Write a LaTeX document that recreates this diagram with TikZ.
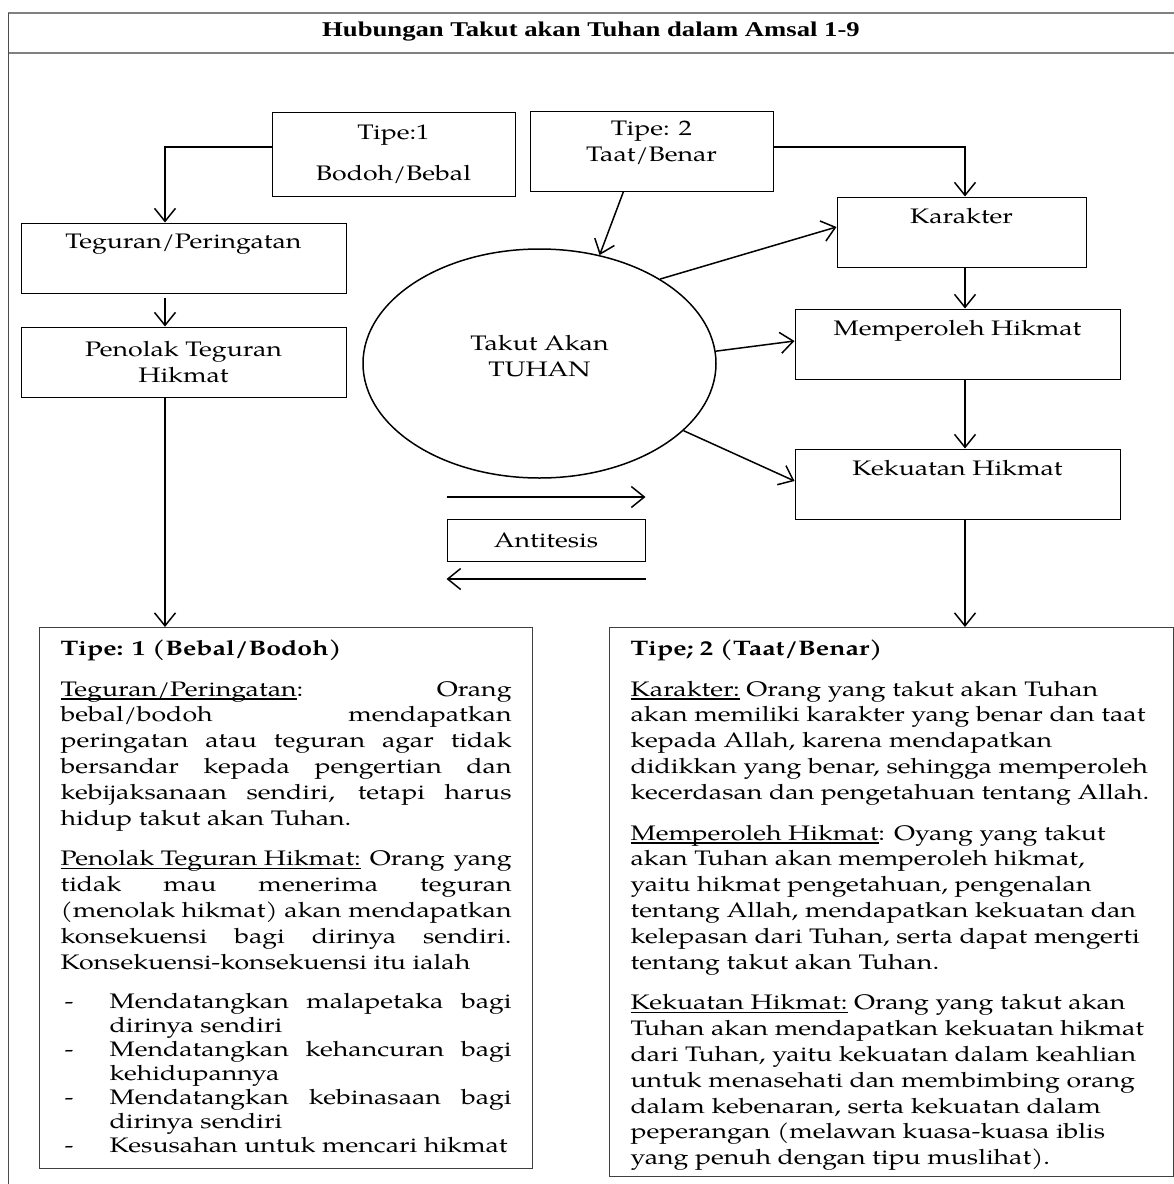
\documentclass[tikz,border=0pt]{standalone}
\usepackage{fontspec}
\setmainfont{TeX Gyre Pagella}[FakeStretch=1.27]
\newfontfamily\headfont{Liberation Serif}[FakeStretch=1.27]
\usetikzlibrary{positioning,arrows.meta,shapes.geometric}

% list line with a dash and hanging text
\newcommand{\dashitem}[1]{\par\hangindent=49pt\hangafter=1\noindent\makebox[49pt][l]{\hspace{4pt}-}#1}
% underline close to the baseline
\newcommand{\ulin}[1]{\leavevmode\setbox0\hbox{#1}\rlap{\rule[-3.5pt]{\wd0}{1.1pt}}\box0\relax}

\begin{document}
\begin{tikzpicture}[
      x=1pt, y=-1pt,
      font=\fontsize{21}{25.8}\selectfont,
      >={Straight Barb[length=13pt,width=21pt]},
      box/.style={draw, line width=1pt, minimum width=325pt, minimum height=70pt, inner sep=0pt, align=center},
      tbox/.style={box, text depth=33pt},
      bigbox/.style={draw=black!75, line width=1.2pt, inner xsep=21pt, inner ysep=12pt},
      conn/.style={->, line width=1.5pt}
  ]
    \path[use as bounding box, fill=white] (0,0) rectangle (1174,1184);

    % frame and title
    \draw[black!50, line width=1.5pt] (8,13) -- (1174,13) (8,53) -- (1174,53);
    \draw[black!70, line width=1pt] (8,13) -- (8,1184);
    \node[font={\headfont\bfseries\fontsize{21}{25}\selectfont}] (title) at (591,32) {Hubungan Takut akan Tuhan dalam Amsal 1-9};

    % type boxes
    \node[box, minimum width=243pt, minimum height=84pt] (t1) at (393.5,154) {Tipe:1\\[15pt]Bodoh/Bebal};
    \node[box, minimum width=243pt, minimum height=80pt, text depth=19pt] (t2) at (651.5,151) {Tipe: 2\\Taat/Benar};

    % left column
    \node[tbox] (teg) at (183.5,258) {Teguran/Peringatan};
    \node[box, below=33pt of teg] (pen) {Penolak Teguran\\Hikmat};

    % right column
    \node[tbox, minimum width=249pt] (kar) at (961.5,232) {Karakter};
    \node[tbox] (mem) at (957.5,344) {Memperoleh Hikmat};
    \node[tbox, below=69pt of mem] (kek) {Kekuatan Hikmat};

    \node[ellipse, draw, line width=1.5pt, minimum width=353pt, minimum height=229pt, inner sep=0pt, align=center, text depth=16pt] (tak) at (539.5,363.5) {Takut Akan\\TUHAN};

    \node[box, minimum width=198pt, minimum height=42pt] (anti) at (546,540) {Antitesis};

    % description boxes
    \node[bigbox, anchor=north west] (tipeA) at (39,627) {\parbox[c][517pt][t]{451pt}{%
      \parskip=15pt\hyphenpenalty=10000\exhyphenpenalty=10000\tolerance=10000
      \textbf{Tipe: 1 (Bebal/Bodoh)}\par
      \ulin{Teguran/Peringatan}: Orang\linebreak bebal/bodoh mendapatkan\linebreak peringatan atau teguran agar tidak\linebreak bersandar kepada pengertian dan\linebreak kebijaksanaan sendiri, tetapi harus\linebreak hidup takut akan Tuhan.\par
      \ulin{Penolak Teguran Hikmat:} Orang yang\linebreak tidak mau menerima teguran\linebreak (menolak hikmat) akan mendapatkan\linebreak konsekuensi bagi dirinya sendiri.\linebreak Konsekuensi-konsekuensi itu ialah\par
      {\vspace{15pt}\fontsize{21}{24}\selectfont\parskip=0pt
      \dashitem{Mendatangkan malapetaka bagi\linebreak dirinya sendiri}
      \dashitem{Mendatangkan kehancuran bagi\linebreak kehidupannya}
      \dashitem{Mendatangkan kebinasaan bagi\linebreak dirinya sendiri}
      \dashitem{Kesusahan untuk mencari hikmat}\par}}};

    \node[bigbox, anchor=north west] (tipeB) at (609,627) {\parbox[c][525pt][t]{522pt}{%
      \raggedright\parskip=15pt
      \textbf{Tipe; 2 (Taat/Benar)}\par
      \ulin{Karakter:} Orang yang takut akan Tuhan\\ akan memiliki karakter yang benar dan taat\\ kepada Allah, karena mendapatkan\\ didikkan yang benar, sehingga memperoleh\\ kecerdasan dan pengetahuan tentang Allah.\par
      \ulin{Memperoleh Hikmat}: Oyang yang takut\\ akan Tuhan akan memperoleh hikmat,\\ yaitu hikmat pengetahuan, pengenalan\\ tentang Allah, mendapatkan kekuatan dan\\ kelepasan dari Tuhan, serta dapat mengerti\\ tentang takut akan Tuhan.\par
      \ulin{Kekuatan Hikmat:} Orang yang takut akan\\ Tuhan akan mendapatkan kekuatan hikmat\\ dari Tuhan, yaitu kekuatan dalam keahlian\\ untuk menasehati dan membimbing orang\\ dalam kebenaran, serta kekuatan dalam\\ peperangan (melawan kuasa-kuasa iblis\\ yang penuh dengan tipu muslihat).\par}};

    \coordinate (lspine) at (165,0);
    \coordinate (rspine) at (965,0);

    % connectors
    \draw[conn] ([yshift=7pt]t1.west) -| (lspine |- teg.north);
    \draw[conn, shorten <=4pt] (lspine |- teg.south) -- (lspine |- pen.north);
    \draw[conn] (lspine |- pen.south) -- (lspine |- tipeA.north);
    \draw[conn] ([yshift=4pt]t2.east) -| (rspine |- kar.north);
    \draw[conn] (rspine |- kar.south) -- (rspine |- mem.north);
    \draw[conn] (rspine |- mem.south) -- (rspine |- kek.north);
    \draw[conn] (rspine |- kek.south) -- (rspine |- tipeB.north);
    \draw[conn] ([xshift=-28pt]t2.south) -- (tak.61);
    \draw[conn] (tak.35) -- ([yshift=5pt]kar.west);
    \draw[conn] (tak.4) -- ([yshift=3pt]mem.west);
    \draw[conn] (tak.-25) -- ([yshift=3pt]kek.west);
    \draw[conn] ([yshift=43pt]anti.west) -- ([yshift=43pt]anti.east);
    \draw[conn] ([yshift=-39pt]anti.east) -- ([yshift=-39pt]anti.west);
  \end{tikzpicture}
\end{document}
